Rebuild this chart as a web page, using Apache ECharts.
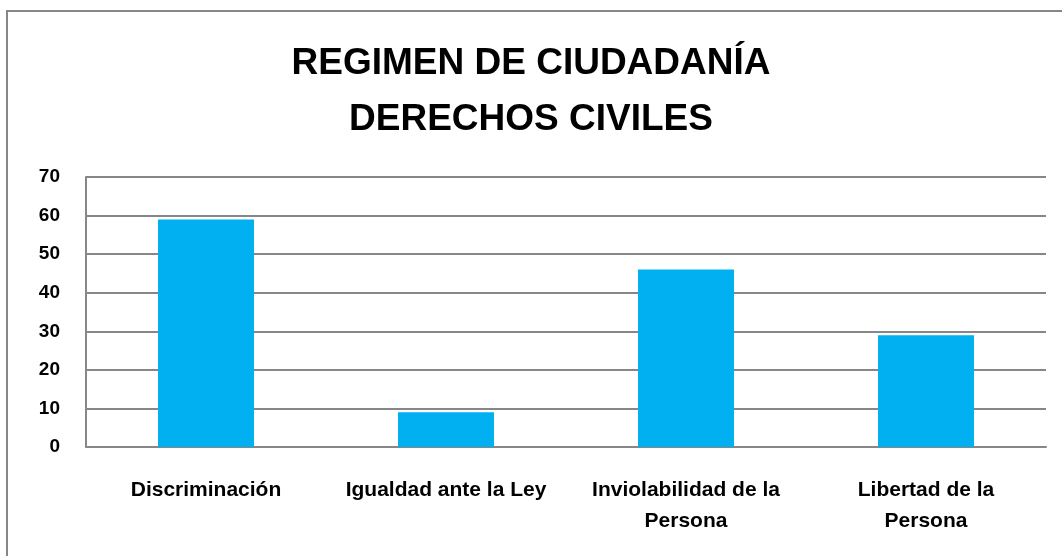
<!DOCTYPE html>
<html>
<head>
<meta charset="utf-8">
<script src="https://cdn.jsdelivr.net/npm/echarts@6/dist/echarts.min.js"></script>
<style>
  html, body { margin: 0; padding: 0; background: #fff; }
  #chart { width: 1062px; height: 556px; }
</style>
</head>
<body>
<div id="chart"></div>
<script>
const tituloLineas = ['REGIMEN DE CIUDADANÍA', 'DERECHOS CIVILES'];
const categorias = ['Discriminación', 'Igualdad ante la Ley', 'Inviolabilidad de la\nPersona', 'Libertad de la\nPersona'];
const valores = [59, 9, 46, 29];
const ejeY = { min: 0, max: 70, interval: 10 };

const gris = '#878787';
const fuente = '"Liberation Sans", Arial, sans-serif';

const chart = echarts.init(document.getElementById('chart'), null, { renderer: 'canvas' });

chart.setOption({
  backgroundColor: '#fff',
  animation: false,
  graphic: [{
    type: 'rect',
    z: -10,
    shape: { x: 7, y: 11, width: 1100, height: 600 },
    style: { fill: 'none', stroke: gris, lineWidth: 2 }
  }],
  title: {
    text: tituloLineas.join('\n'),
    left: 'center',
    top: 36,
    padding: 0,
    textStyle: {
      fontFamily: fuente,
      fontWeight: 'bold',
      fontSize: 37,
      lineHeight: 56,
      color: '#000'
    }
  },
  grid: { left: 86, right: 16, top: 177, bottom: 109, containLabel: false },
  xAxis: {
    type: 'category',
    data: categorias,
    axisLine: { show: true, lineStyle: { color: gris, width: 2 } },
    axisTick: { show: false },
    axisLabel: {
      margin: 28,
      interval: 0,
      fontFamily: fuente,
      fontWeight: 'bold',
      fontSize: 21,
      lineHeight: 31,
      color: '#000'
    }
  },
  yAxis: {
    type: 'value',
    min: ejeY.min,
    max: ejeY.max,
    interval: ejeY.interval,
    axisLine: { show: true, lineStyle: { color: gris, width: 2 } },
    axisTick: { show: false },
    splitLine: { show: true, lineStyle: { color: gris, width: 2 } },
    axisLabel: {
      margin: 26,
      fontFamily: fuente,
      fontWeight: 'bold',
      fontSize: 19,
      color: '#000'
    }
  },
  series: [{
    type: 'bar',
    data: valores,
    barWidth: '40%',
    itemStyle: { color: '#00B0F0' }
  }]
});
</script>
</body>
</html>
